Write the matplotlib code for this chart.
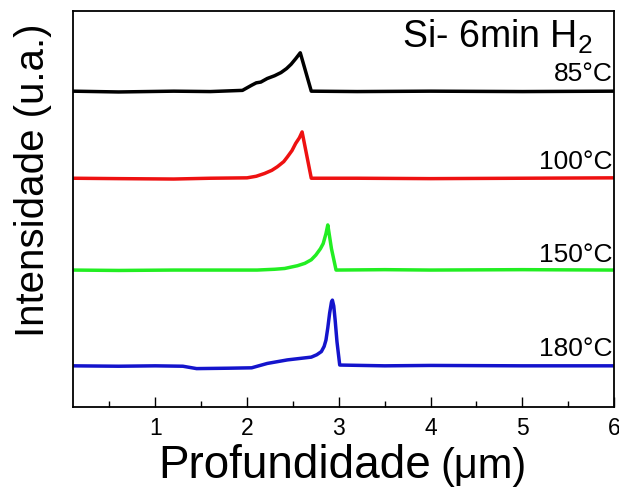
import matplotlib.pyplot as plt
from matplotlib.ticker import MultipleLocator

plt.rcParams["font.family"] = ["Liberation Sans", "DejaVu Sans"]

# depth (um) / intensity (a.u., curves stacked with offsets)
depth_85 = [0.1, 0.6, 1.2, 1.6, 1.95, 2.05, 2.10, 2.15, 2.22, 2.30, 2.37, 2.43, 2.48, 2.53,
            2.58, 2.70, 3.2, 4.0, 5.0, 6.0]
int_85 = [79.8, 79.6, 79.8, 79.7, 80.0, 81.3, 81.9, 82.1, 83.0, 83.7, 84.5, 85.5, 86.6, 88.0,
          89.5, 79.8, 79.7, 79.8, 79.7, 79.8]

depth_100 = [0.1, 0.6, 1.2, 1.6, 2.0, 2.10, 2.19, 2.27, 2.33, 2.40, 2.44, 2.49, 2.53, 2.57,
             2.60, 2.70, 3.2, 4.0, 5.0, 6.0]
int_100 = [57.8, 57.7, 57.6, 57.8, 57.9, 58.3, 59.0, 59.8, 60.7, 62.0, 63.2, 64.8, 66.6, 68.0,
           69.5, 57.8, 57.8, 57.7, 57.8, 57.9]

depth_150 = [0.1, 0.6, 1.2, 1.6, 2.11, 2.30, 2.41, 2.55, 2.63, 2.70, 2.75, 2.80, 2.83, 2.86,
             2.88, 2.92, 2.97, 3.5, 4.0, 5.0, 6.0]
int_150 = [34.6, 34.5, 34.6, 34.6, 34.6, 34.8, 35.0, 35.7, 36.3, 37.2, 38.4, 40.0, 41.3, 43.8,
           46.0, 40.0, 34.6, 34.7, 34.6, 34.7, 34.6]

depth_180 = [0.1, 0.6, 1.0, 1.3, 1.45, 1.8, 2.05, 2.22, 2.44, 2.70, 2.76, 2.81, 2.84, 2.86,
             2.88, 2.90, 2.92, 2.93, 2.945, 2.96, 2.98, 3.01, 3.5, 4.0, 5.0, 6.0]
int_180 = [10.4, 10.3, 10.4, 10.3, 9.7, 9.8, 9.9, 11.0, 11.9, 12.6, 13.2, 14.0, 15.3, 16.9,
           20.0, 23.7, 26.5, 27.0, 25.5, 22.0, 16.5, 10.6, 10.4, 10.5, 10.4, 10.4]

series = [
    (depth_85, int_85, "black", "85°C", 84.2),
    (depth_100, int_100, "#ee1111", "100°C", 62.0),
    (depth_150, int_150, "#22ee22", "150°C", 38.5),
    (depth_180, int_180, "#1414cc", "180°C", 14.7),
]

fig = plt.figure(figsize=(6.19, 4.88), dpi=100)
ax = fig.add_axes([0.1175, 0.166, 0.8745, 0.811])

for xs, ys, color, label, ytxt in series:
    ax.plot(xs, ys, color=color, linewidth=2.5, solid_joinstyle="round")
    ax.text(5.985, ytxt, label, ha="right", va="center", fontsize=19)

ax.text(5.77, 93.5, r"Si- 6min H$_\mathregular{2}$", ha="right", va="center", fontsize=27)

ax.set_xlim(0.1, 6.0)
ax.set_ylim(0, 100)

ax.xaxis.set_major_locator(MultipleLocator(1))
ax.xaxis.set_minor_locator(MultipleLocator(0.5))
ax.tick_params(axis="x", which="major", direction="in", length=7, width=1,
               labelsize=16.5, pad=7, top=False)
ax.tick_params(axis="x", which="minor", direction="in", length=4, width=1, top=False)
ax.set_yticks([])

for sp in ax.spines.values():
    sp.set_linewidth(1.3)

fig.text(158 / 619, 1 - 478 / 488, "Profundidade", fontsize=33, ha="left", va="baseline")
fig.text(440 / 619, 1 - 478 / 488, "(μm)", fontsize=30, ha="left", va="baseline")
fig.text(33 / 619, 1 - 180 / 488, "Intensidade (u.a.)", fontsize=29,
         rotation=90, ha="center", va="center")

fig.savefig("out.png", dpi=100)
